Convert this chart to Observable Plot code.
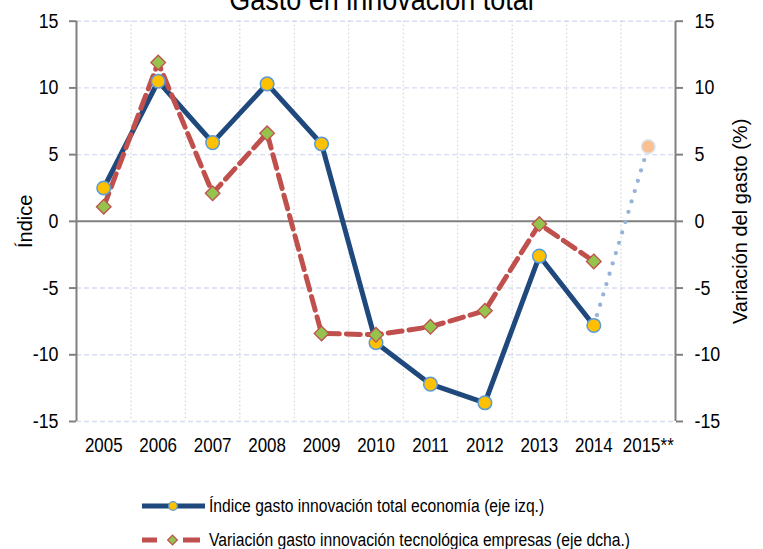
<!DOCTYPE html>
<html><head><meta charset="utf-8">
<script src="https://cdn.jsdelivr.net/npm/d3@7"></script>
<script src="https://cdn.jsdelivr.net/npm/@observablehq/plot@0.6"></script>
<style>
body{margin:0;background:#fff;}
#wrap{position:relative;width:763px;height:549px;overflow:hidden;font-family:"Liberation Sans",Arial,sans-serif;color:#000;}
#chart{position:absolute;left:0;top:0;}
#top{position:absolute;left:0;top:0;}
#legend{position:absolute;left:0;top:490px;}
</style>
</head><body>
<div id="wrap"><div id="chart"></div><svg id="top" width="763" height="20"></svg><svg id="legend" width="763" height="59"></svg></div>
<script>
const years = [2005, 2006, 2007, 2008, 2009, 2010, 2011, 2012, 2013, 2014];
const indice = [2.5, 10.5, 5.9, 10.3, 5.8, -9.1, -12.2, -13.6, -2.6, -7.8];
const variacion = [1.1, 11.9, 2.1, 6.6, -8.4, -8.5, -7.9, -6.7, -0.2, -3.0];
const projYears = [2014, 2015];
const projValues = [-7.8, 5.6];
const tickYears = [2005, 2006, 2007, 2008, 2009, 2010, 2011, 2012, 2013, 2014, 2015];
const tickLabels = ["2005", "2006", "2007", "2008", "2009", "2010", "2011", "2012", "2013", "2014", "2015**"];
const yTicks = [-15, -10, -5, 0, 5, 10, 15];
const xDomain = [2004.5, 2015.5];
const title = "Gasto en innovación total";
const yLabelLeft = "Índice";
const yLabelRight = "Variación del gasto (%)";
const legendLabels = ["Índice gasto innovación total economía (eje izq.)", "Variación gasto innovación tecnológica empresas (eje dcha.)"];

const font = '"Liberation Sans",Arial,sans-serif';
const green = "#96C24E";
const indiceData = years.map((y, i) => ({year: y, value: indice[i]}));
const variacionData = years.map((y, i) => ({year: y, value: variacion[i]}));
const projData = projYears.map((y, i) => ({year: y, value: projValues[i]}));
const gridX = tickYears.slice(0, -1).map(y => y + 0.5);
const diamond = d3.symbolDiamond2 || "diamond";

const chart = Plot.plot({
  width: 763, height: 461,
  marginLeft: 76, marginRight: 88, marginTop: 20.7, marginBottom: 40,
  x: {type: "linear", domain: xDomain},
  y: {domain: [-15, 15]},
  style: {fontFamily: font, fontSize: "20px", background: "transparent", color: "#000"},
  marks: [
    Plot.ruleY(yTicks.filter(d => d !== 0), {stroke: "#d6dff0", strokeWidth: 1.4, strokeDasharray: "5,3"}),
    Plot.ruleX(gridX, {stroke: "#c9c9c9", strokeWidth: 1, strokeDasharray: "1.5,2.5"}),
    Plot.ruleY([0], {stroke: "#808080", strokeWidth: 2}),
    Plot.ruleX(xDomain, {stroke: "#808080", strokeWidth: 2}),
    Plot.axisY(yTicks, {anchor: "left", tickSize: 7, tickPadding: 11, stroke: "#808080", strokeWidth: 2, label: null, fontSize: 20.5, tickFormat: d => String(d)}),
    Plot.axisY(yTicks, {anchor: "right", tickSize: 7, tickPadding: 12, stroke: "#808080", strokeWidth: 2, label: null, fontSize: 20.5, tickFormat: d => String(d)}),
    Plot.axisX(tickYears, {tickSize: 0, tickPadding: 17, label: null, fontSize: 19.5, tickFormat: d => tickLabels[tickYears.indexOf(d)]}),
    Plot.text([yLabelLeft], {frameAnchor: "left", textAnchor: "middle", rotate: -90, dx: -51, fontSize: 20}),
    Plot.text([yLabelRight], {frameAnchor: "right", textAnchor: "middle", rotate: -90, dx: 65, fontSize: 20}),
    Plot.line(projData, {x: "year", y: "value", stroke: "#95B3D7", strokeWidth: 4.3, strokeDasharray: "0,10.8", strokeLinecap: "round"}),
    Plot.line(indiceData, {x: "year", y: "value", stroke: "#1F497D", strokeWidth: 5}),
    Plot.line(variacionData, {x: "year", y: "value", stroke: "#C0504D", strokeWidth: 5, strokeDasharray: "14,7"}),
    Plot.dot(indiceData, {x: "year", y: "value", r: 6.8, fill: "#FFC000", stroke: "#5B9BD5", strokeWidth: 1.5}),
    Plot.dot(projData.slice(1), {x: "year", y: "value", r: 6.8, fill: "#FAC090", stroke: "#DCE6F2", strokeWidth: 1.5}),
    Plot.dot(variacionData, {x: "year", y: "value", symbol: diamond, r: 6.6, fill: green, stroke: "#C0504D", strokeWidth: 1.3})
  ]
});
document.getElementById("chart").appendChild(chart);

d3.select("#top").append("text").attr("x", 381.5).attr("y", 9.5).attr("text-anchor", "middle")
  .attr("font-family", font).attr("font-size", 31).attr("fill", "#000").text(title);

const lg = d3.select("#legend");
lg.append("line").attr("x1", 142).attr("x2", 205).attr("y1", 16).attr("y2", 16).attr("stroke", "#1F497D").attr("stroke-width", 5);
lg.append("circle").attr("cx", 173).attr("cy", 16).attr("r", 4.3).attr("fill", "#FFC000").attr("stroke", "#5B9BD5").attr("stroke-width", 1.2);
lg.append("line").attr("x1", 142).attr("x2", 200).attr("y1", 50).attr("y2", 50).attr("stroke", "#C0504D").attr("stroke-width", 5).attr("stroke-dasharray", "15,26,17");
lg.append("path").attr("transform", "translate(172.5,50)").attr("d", d3.symbol(d3.symbolDiamond2 || d3.symbolDiamond, 60)()).attr("fill", green).attr("stroke", "#C0504D").attr("stroke-width", 1.2);
lg.selectAll("text.l").data(legendLabels).join("text").attr("class", "l")
  .attr("x", 209).attr("y", (d, i) => 16 + i * 34).attr("dy", "0.35em")
  .attr("font-family", font).attr("font-size", 18).attr("fill", "#000").text(d => d);

// the reference uses a condensed face: narrow the (horizontal) texts
for (const t of document.querySelectorAll("#wrap svg text")) {
  if (t.closest("[transform*='rotate']") || (t.getAttribute("transform") || "").includes("rotate")) continue;
  const L = t.getComputedTextLength();
  if (L > 0) {
    t.setAttribute("textLength", (L * 0.87).toFixed(1));
    t.setAttribute("lengthAdjust", "spacingAndGlyphs");
  }
}
</script>
</body></html>
